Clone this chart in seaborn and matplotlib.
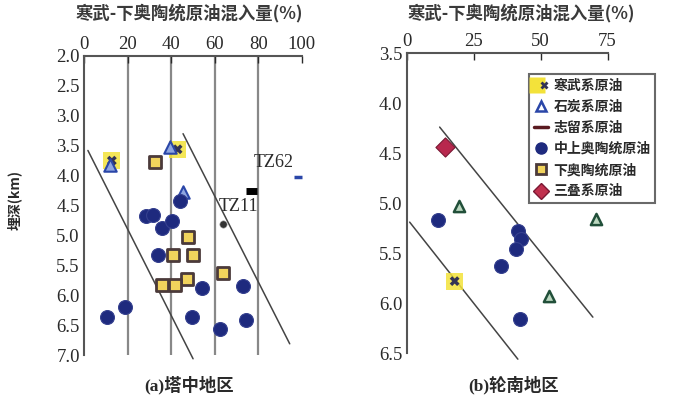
import pandas as pd
import seaborn as sns
import matplotlib.pyplot as plt
from matplotlib.lines import Line2D
from matplotlib.legend_handler import HandlerTuple

# ---- (a) 塔中地区 ----
a_camb_x = [12.8, 43.0]
a_camb_y = [3.75, 3.56]
a_carb_x = [12.0, 39.5, 45.5]
a_carb_y = [3.83, 3.53, 4.27]
a_mo_x = [28.7, 31.6, 35.6, 40.2, 44.0, 33.9, 54.0, 73.0, 10.4, 18.8, 49.4, 74.6, 62.4]
a_mo_y = [4.68, 4.66, 4.88, 4.76, 4.42, 5.33, 5.88, 5.85, 6.36, 6.19, 6.36, 6.42, 6.56]
a_lo_x = [32.6, 47.9, 41.0, 50.1, 63.9, 47.1, 41.7, 35.6]
a_lo_y = [3.78, 5.02, 5.33, 5.33, 5.63, 5.72, 5.83, 5.83]
a_line1 = ([1.8, 50.1], [3.58, 7.06])
a_line2 = ([45.5, 94.5], [3.30, 6.81])

# ---- (b) 轮南地区 ----
b_camb_x = [17.9]
b_camb_y = [5.78]
b_carb_x = [19.5, 53.1, 70.8]
b_carb_y = [5.03, 5.93, 5.16]
b_mo_x = [11.7, 41.5, 42.8, 40.9, 35.3, 42.4]
b_mo_y = [5.17, 5.28, 5.36, 5.46, 5.63, 6.16]
b_tri_x = [14.2]
b_tri_y = [4.44]
b_line1 = ([12.3, 69.5], [4.24, 6.14])
b_line2 = ([1.1, 41.5], [5.19, 6.56])

legend_labels = ["寒武系原油", "石炭系原油", "志留系原油", "中上奥陶统原油", "下奥陶统原油", "三叠系原油"]

sns.set_style("white")
plt.rcParams['font.family'] = ['Liberation Serif', 'Noto Sans CJK SC', 'DejaVu Sans']
cjk = ['Noto Sans CJK SC', 'DejaVu Sans']

fig = plt.figure(figsize=(7, 4.05), dpi=100)
ax1 = fig.add_axes([0.12, 0.123, 0.311, 0.739])
ax2 = fig.add_axes([0.581, 0.128, 0.287, 0.741])

C_BLUE = "#1e2a7e"
C_YEL = "#f3e23a"
C_TXT = "#2a2a2a"


def camb(ax, xs, ys):
    sns.scatterplot(x=xs, y=ys, ax=ax, marker="s", s=150, color=C_YEL, edgecolor="none", alpha=0.85, clip_on=False)
    sns.scatterplot(x=xs, y=ys, ax=ax, marker="X", s=50, color="#333355", edgecolor="none", clip_on=False)


# panel a
ax = ax1
for xs, ys in [a_line1, a_line2]:
    ax.plot(xs, ys, color="#444444", lw=1.1, clip_on=False, zorder=1)
for v in [20, 40, 60, 80]:
    ax.axvline(v, color="#888888", lw=1.6, zorder=0)
camb(ax, a_camb_x, a_camb_y)
sns.scatterplot(x=a_carb_x, y=a_carb_y, ax=ax, marker="^", s=80, color="#8fa6e0", edgecolor="#2a46a8", linewidth=1.5)
sns.scatterplot(x=a_mo_x, y=a_mo_y, ax=ax, marker="o", s=100, color=C_BLUE, edgecolor="#35408f", linewidth=0.8)
sns.scatterplot(x=a_lo_x, y=a_lo_y, ax=ax, marker="s", s=75, color="#f1d35c", edgecolor="#4b3a3a", linewidth=2)
sns.scatterplot(x=[63.8], y=[4.81], ax=ax, marker="o", s=28, color="#333333", edgecolor="#aaaaaa")
ax.plot([74.5, 79.5], [4.26, 4.26], color="black", lw=5, solid_capstyle="butt")
ax.plot([96.5, 100], [4.02, 4.02], color="#2a46a8", lw=2.5, solid_capstyle="butt", clip_on=False)
ax.text(87.0, 3.92, "TZ62", fontsize=13, ha="center", va="bottom", color=C_TXT)
ax.text(71.0, 4.38, "TZ11", fontsize=13, ha="center", va="top", color=C_TXT)
ax.set_xlim(0, 100)
ax.set_ylim(7.0, 2.0)
ax.set_xticks([0, 20, 40, 60, 80, 100])
ax.set_yticks([2.0 + 0.5 * i for i in range(11)])
ax.set_yticklabels([f"{2.0 + 0.5 * i:.1f}" for i in range(11)])
ax.set_ylabel("埋深(km)", family=cjk, fontsize=10, fontweight="bold", color=C_TXT)
ax.yaxis.set_label_coords(-0.285, 0.52)

# panel b
ax = ax2
for xs, ys in [b_line1, b_line2]:
    ax.plot(xs, ys, color="#444444", lw=1.1, clip_on=False, zorder=1)
camb(ax, b_camb_x, b_camb_y)
sns.scatterplot(x=b_carb_x, y=b_carb_y, ax=ax, marker="^", s=65, color="#bcd8c0", edgecolor="#22503a", linewidth=1.8, clip_on=False)
sns.scatterplot(x=b_mo_x, y=b_mo_y, ax=ax, marker="o", s=100, color=C_BLUE, edgecolor="#35408f", linewidth=0.8)
sns.scatterplot(x=b_tri_x, y=b_tri_y, ax=ax, marker="D", s=95, color="#b8284e", edgecolor="#7a1833", linewidth=0.8)
ax.set_xlim(0, 75)
ax.set_ylim(6.5, 3.5)
ax.set_xticks([0, 25, 50, 75])
ax.set_yticks([3.5, 4.0, 4.5, 5.0, 5.5, 6.0, 6.5])
ax.set_yticklabels(["3.5", "4.0", "4.5", "5.0", "5.5", "6.0", "6.5"])

for ax in (ax1, ax2):
    ax.xaxis.tick_top()
    ax.tick_params(axis="both", direction="in", length=5, width=1, labelsize=13.5, colors=C_TXT, pad=3)
    ax.tick_params(axis="x", pad=2)
    for side in ["right", "bottom"]:
        ax.spines[side].set_visible(False)
    for side in ["left", "top"]:
        ax.spines[side].set_color("#555555")
        ax.spines[side].set_linewidth(1.5)

handles = [
    (Line2D([], [], marker="s", ls="", ms=11, color=C_YEL, mec="none"),
     Line2D([], [], marker="X", ls="", ms=6, color="#333355", mec="none")),
    Line2D([], [], marker="^", ls="", ms=7, color="white", mec="#2a46a8", mew=1.8),
    Line2D([], [], color="#5a1a20", lw=2.5),
    Line2D([], [], marker="o", ls="", ms=8, color=C_BLUE),
    Line2D([], [], marker="s", ls="", ms=7, color="#f1d35c", mec="#4b3a3a", mew=2),
    Line2D([], [], marker="D", ls="", ms=8, color="#c0304e", mec="#7a1833"),
]
leg = ax2.legend(handles, legend_labels, loc="upper left", bbox_to_anchor=(0.575, 0.955),
                 prop={"family": cjk, "size": 10, "weight": "bold"}, frameon=True, fancybox=False,
                 edgecolor="#444444", handlelength=1.0, handletextpad=0.4, labelspacing=0.52,
                 borderpad=0.35, handler_map={tuple: HandlerTuple(ndivide=None, pad=0)})
leg.get_frame().set_linewidth(1.5)
for t in leg.get_texts():
    t.set_color(C_TXT)

fig.text(0.27, 0.968, "寒武-下奥陶统原油混入量(%)", family=cjk, fontsize=12.5, fontweight="bold",
         ha="center", va="center", color="#3a3a3a")
fig.text(0.745, 0.968, "寒武-下奥陶统原油混入量(%)", family=cjk, fontsize=12.5, fontweight="bold",
         ha="center", va="center", color="#3a3a3a")
fig.text(0.27, 0.05, "(a)塔中地区", family=['Liberation Serif', 'Noto Sans CJK SC'], fontsize=12.5,
         fontweight="bold", ha="center", va="center", color=C_TXT)
fig.text(0.733, 0.05, "(b)轮南地区", family=['Liberation Serif', 'Noto Sans CJK SC'], fontsize=12.5,
         fontweight="bold", ha="center", va="center", color=C_TXT)

fig.savefig("out.png", dpi=100)
